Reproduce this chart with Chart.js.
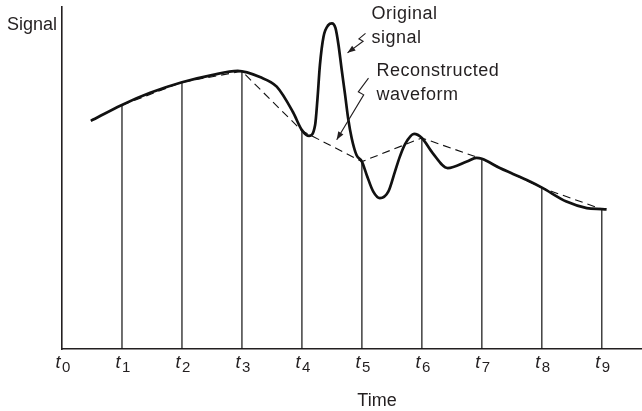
<!DOCTYPE html>
<html>
<head>
<meta charset="utf-8">
<script src="https://cdn.jsdelivr.net/npm/chart.js@4.4.1/dist/chart.umd.min.js"></script>
<style>
  html, body { margin: 0; padding: 0; background: #fff; }
  canvas { display: block; }
</style>
</head>
<body>
<canvas id="sampling" width="642" height="411"></canvas>
<script>
// sampling.js
// Original signal vs. waveform rebuilt from samples t1..t9

// original signal (time in sample periods, arbitrary signal units)
const origTime = [0.48, 0.99, 1.47, 2.0, 2.5, 2.93, 3.3, 3.58, 3.85, 4.0, 4.12, 4.22, 4.26, 4.3, 4.36,
    4.44, 4.5, 4.56, 4.61, 4.66, 4.72, 4.77, 4.83, 4.91, 5.0, 5.08, 5.19, 5.3, 5.44, 5.55, 5.63,
    5.72, 5.87, 6.0, 6.18, 6.43, 6.75, 6.91, 7.0, 7.3, 7.52, 7.75, 8.01, 8.41, 8.75, 9.0, 9.08];
const origSignal = [6.67, 7.13, 7.49, 7.80, 8.01, 8.13, 7.95, 7.67, 6.93, 6.40, 6.23, 6.55, 7.33, 8.30, 9.13,
    9.47, 9.52, 9.38, 8.89, 8.21, 7.43, 6.75, 6.16, 5.67, 5.48, 5.09, 4.60, 4.41, 4.60, 5.18, 5.61,
    5.99, 6.29, 6.17, 5.73, 5.29, 5.48, 5.59, 5.56, 5.29, 5.12, 4.94, 4.71, 4.31, 4.12, 4.09, 4.08];

// sample instants and sampled values (joined by the dashed reconstruction)
const sampleTime = [1, 2, 3, 4, 5, 6, 7, 8, 9];
const sampleValue = [7.13, 7.80, 8.12, 6.38, 5.48, 6.17, 5.56, 4.71, 4.09];

// tick marks t0 .. t9
const tickNums = [0, 1, 2, 3, 4, 5, 6, 7, 8, 9];
const tickSubs = ['0', '1', '2', '3', '4', '5', '6', '7', '8', '9'];

const ink = '#231f20';
const font = '"Liberation Sans", Arial, sans-serif';

// vertical sample lines: axis -> sample value, broken by nulls
const stems = [];
sampleTime.forEach((t, i) => {
    stems.push({ x: t, y: 0 }, { x: t, y: sampleValue[i] }, { x: t, y: null });
});

// arrow paths (in data units) and their labels
const arrows = [
    [[5.06, 9.23], [4.95, 9.07], [5.02, 9.0], [4.76, 8.66]],
    [[5.11, 7.92], [4.94, 7.52], [5.03, 7.43], [4.58, 6.12]]
];
const notes = [
    { t: 5.16, s: 9.66, text: 'Original' },
    { t: 5.16, s: 8.95, text: 'signal' },
    { t: 5.245, s: 7.98, text: 'Reconstructed' },
    { t: 5.245, s: 7.28, text: 'waveform' }
];

const textPlugin = {
    id: 'textPlugin',
    afterDraw(chart) {
        const ctx = chart.ctx;
        const xs = chart.scales.x, ys = chart.scales.y;
        const area = chart.chartArea;
        ctx.save();
        ctx.fillStyle = ink;
        ctx.strokeStyle = ink;
        ctx.textBaseline = 'alphabetic';

        // t_n tick labels
        tickNums.forEach((n, i) => {
            const px = xs.getPixelForValue(n);
            ctx.textAlign = 'left';
            ctx.font = 'italic 18px ' + font;
            ctx.fillText('t', px - 6.5, area.bottom + 18.5);
            ctx.font = '15px ' + font;
            ctx.fillText(tickSubs[i], px, area.bottom + 23);
        });

        // axis titles
        ctx.font = '18px ' + font;
        ctx.textAlign = 'right';
        ctx.fillText('Signal', area.left - 5, 30);
        ctx.textAlign = 'center';
        ctx.fillText('Time', 377, 406);

        // annotation text
        ctx.textAlign = 'left';
        ctx.letterSpacing = '0.5px';
        notes.forEach(n => {
            ctx.fillText(n.text, xs.getPixelForValue(n.t), ys.getPixelForValue(n.s));
        });
        ctx.letterSpacing = '0px';

        // squiggle arrows
        ctx.lineWidth = 1.1;
        arrows.forEach(pts => {
            const p = pts.map(([t, s]) => [xs.getPixelForValue(t), ys.getPixelForValue(s)]);
            ctx.beginPath();
            ctx.moveTo(p[0][0], p[0][1]);
            for (let k = 1; k < p.length; k++) ctx.lineTo(p[k][0], p[k][1]);
            ctx.stroke();
            const [ax, ay] = p[p.length - 1];
            const [bx, by] = p[p.length - 2];
            const ang = Math.atan2(ay - by, ax - bx);
            ctx.beginPath();
            ctx.moveTo(ax, ay);
            ctx.lineTo(ax - 8 * Math.cos(ang) + 3 * Math.sin(ang), ay - 8 * Math.sin(ang) - 3 * Math.cos(ang));
            ctx.lineTo(ax - 8 * Math.cos(ang) - 3 * Math.sin(ang), ay - 8 * Math.sin(ang) + 3 * Math.cos(ang));
            ctx.closePath();
            ctx.fill();
        });
        ctx.restore();
    }
};

const ctx = document.getElementById('sampling').getContext('2d');

new Chart(ctx, {
    type: 'line',
    data: {
        datasets: [
            {
                label: 'Original signal',
                data: origTime.map((t, i) => ({ x: t, y: origSignal[i] })),
                borderColor: '#111',
                borderWidth: 2.7,
                pointRadius: 0,
                cubicInterpolationMode: 'monotone',
                fill: false
            },
            {
                label: 'Reconstructed waveform',
                data: sampleTime.map((t, i) => ({ x: t, y: sampleValue[i] })),
                borderColor: '#111',
                borderWidth: 1.1,
                borderDash: [8, 5],
                pointRadius: 0,
                tension: 0,
                fill: false
            },
            {
                label: 'Samples',
                data: stems,
                borderColor: '#111',
                borderWidth: 1.2,
                pointRadius: 0,
                tension: 0,
                spanGaps: false,
                fill: false
            }
        ]
    },
    options: {
        responsive: false,
        animation: false,
        layout: { padding: { top: 7, right: 0, left: 0, bottom: 0 } },
        plugins: {
            legend: { display: false },
            tooltip: { enabled: false }
        },
        scales: {
            x: {
                type: 'linear',
                min: 0,
                max: 9.67,
                grid: { display: false },
                border: { color: ink, width: 1.6 },
                ticks: { display: false },
                afterFit: s => { s.height = 62; }
            },
            y: {
                type: 'linear',
                min: 0,
                max: 10,
                grid: { display: false },
                border: { color: ink, width: 1.6 },
                ticks: { display: false },
                afterFit: s => { s.width = 62; }
            }
        }
    },
    plugins: [textPlugin]
});
</script>
</body>
</html>
